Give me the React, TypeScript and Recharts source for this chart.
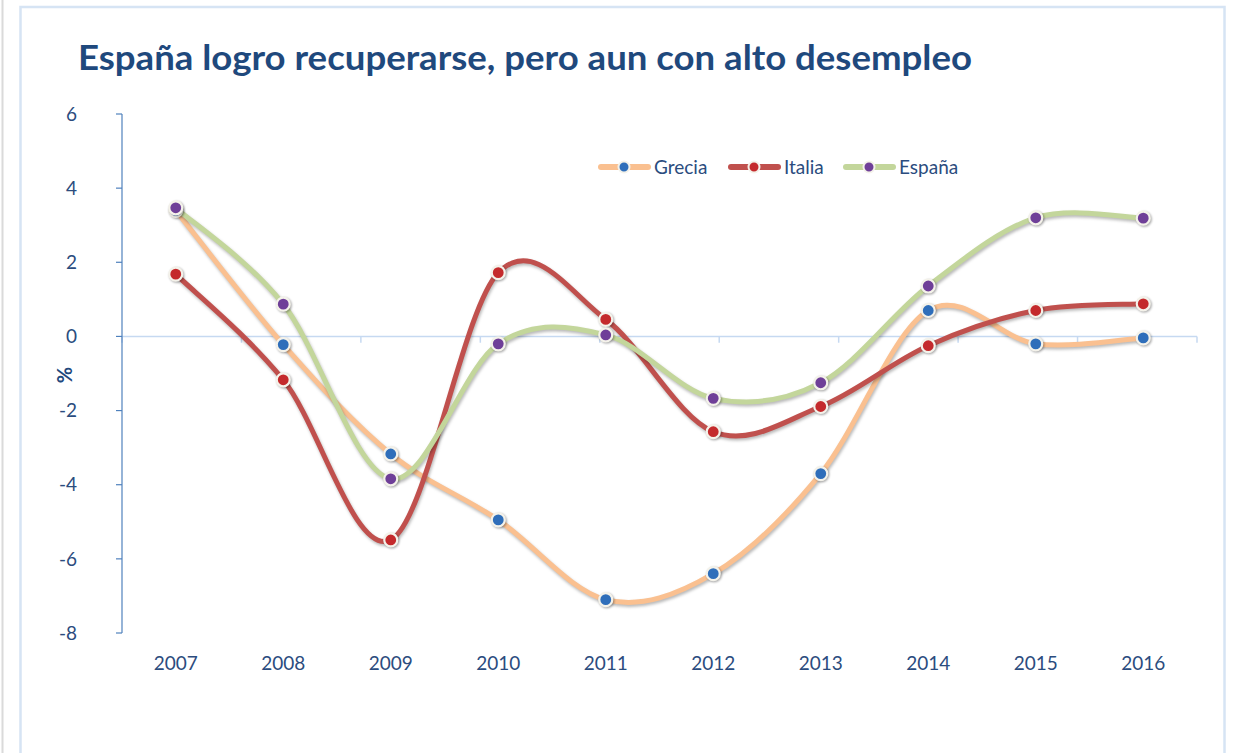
import React from 'react';
import { LineChart, Line, XAxis, YAxis, ReferenceLine } from 'recharts';

const years = ['2007', '2008', '2009', '2010', '2011', '2012', '2013', '2014', '2015', '2016'];
const grecia = [3.4, -0.22, -3.17, -4.95, -7.1, -6.4, -3.7, 0.7, -0.2, -0.04];
const italia = [1.68, -1.17, -5.49, 1.72, 0.46, -2.57, -1.89, -0.25, 0.7, 0.88];
const espana = [3.47, 0.87, -3.84, -0.2, 0.04, -1.67, -1.25, 1.36, 3.2, 3.19];
const yTicks = [-8, -6, -4, -2, 0, 2, 4, 6];
const boundaryTicks = [0, 1, 2, 3, 4, 5, 6, 7, 8, 9, 10];

const series = [
  { key: 'grecia', name: 'Grecia', line: '#FAC090', dot: '#2F6EBA' },
  { key: 'italia', name: 'Italia', line: '#C0504D', dot: '#C42A2C' },
  { key: 'espana', name: 'España', line: '#C3D69B', dot: '#6F3F98' },
];

const data = years.map((y, i) => ({ year: y, grecia: grecia[i], italia: italia[i], espana: espana[i] }));

const FONT = 'Lato, "Open Sans", sans-serif';
const TEXT = '#2B4C7E';
const AXIS = '#4F81BD';

// Excel-like smoothed line (uniform Catmull-Rom as cubic Bezier)
const excelCurve = (context: any) => {
  let pts: number[][] = [];
  return {
    areaStart() {},
    areaEnd() {},
    lineStart() { pts = []; },
    point(x: number, y: number) { pts.push([+x, +y]); },
    lineEnd() {
      if (!pts.length) return;
      context.moveTo(pts[0][0], pts[0][1]);
      for (let i = 0; i < pts.length - 1; i++) {
        const p0 = pts[i - 1] || pts[i];
        const p1 = pts[i];
        const p2 = pts[i + 1];
        const p3 = pts[i + 2] || p2;
        context.bezierCurveTo(
          p1[0] + (p2[0] - p0[0]) / 6, p1[1] + (p2[1] - p0[1]) / 6,
          p2[0] - (p3[0] - p1[0]) / 6, p2[1] - (p3[1] - p1[1]) / 6,
          p2[0], p2[1]
        );
      }
    },
  };
};

const legendX = [598, 728, 843];
const PLOT_W = 1075;
const HALF_BAND = PLOT_W / years.length / 2;

export default function App() {
  return (
    <div style={{ position: 'absolute', left: 0, top: 0, width: 1235, height: 753, background: '#fff', overflow: 'hidden' }}>
      <style>{`
        .recharts-line-curve { filter: drop-shadow(1.5px 2px 1.5px rgba(0,0,0,0.28)); }
        .recharts-line-dots circle { filter: drop-shadow(1px 1.5px 1.2px rgba(0,0,0,0.35)); }
      `}</style>
      <svg width={1235} height={753} style={{ position: 'absolute', left: 0, top: 0 }}>
        <line x1={2.5} y1={0} x2={2.5} y2={753} stroke="#DADADA" strokeWidth={2} />
        <rect x={20.5} y={7} width={1204} height={800} fill="#fff" stroke="#D6E4F4" strokeWidth={2.5} />
      </svg>
      <div style={{ position: 'absolute', left: 0, top: 0 }}>
        <LineChart width={1235} height={753} data={data} margin={{ top: 114, right: 38, bottom: 90, left: 62 }}>
          <XAxis dataKey="year" axisLine={false} tickLine={false} height={30} tickMargin={18}
            padding={{ left: HALF_BAND, right: HALF_BAND }}
            tick={{ fill: TEXT, fontSize: 19, fontFamily: FONT }} interval={0} />
          <XAxis xAxisId="n" type="number" domain={[0, 10]} hide />
          <YAxis domain={[-8, 6]} ticks={yTicks} width={60} axisLine={{ stroke: AXIS, strokeWidth: 1.2 }}
            tickLine={{ stroke: AXIS, strokeWidth: 1.2 }} tickSize={6} tickMargin={39}
            tick={{ fill: TEXT, fontSize: 19, fontFamily: FONT }} interval={0} />
          <ReferenceLine y={0} xAxisId="n" stroke="#C6D9F1" strokeWidth={1.5} />
          {boundaryTicks.map((b) => (
            <ReferenceLine key={b} xAxisId="n" segment={[{ x: b, y: 0 }, { x: b, y: -0.17 }]} stroke="#C6D9F1" strokeWidth={1.5} />
          ))}
          {series.map((s) => (
            <Line key={s.key} dataKey={s.key} name={s.name} type={excelCurve as any} stroke={s.line} strokeWidth={5}
              strokeLinecap="round" isAnimationActive={false} activeDot={false}
              dot={{ r: 6.5, fill: s.dot, stroke: '#F4F2EA', strokeWidth: 2.2 }} />
          ))}
        </LineChart>
      </div>
      <svg width={1235} height={753} style={{ position: 'absolute', left: 0, top: 0, pointerEvents: 'none' }}>
        <text x={78} y={70} fontFamily={FONT} fontWeight={700} fontSize={35} fill="#1F497D"
          textLength={894} lengthAdjust="spacingAndGlyphs">España logro recuperarse, pero aun con alto desempleo</text>
        <text transform="translate(72,375) rotate(-90)" textAnchor="middle" fontFamily={FONT} fontWeight={700}
          fontSize={20} fill="#1F497D">%</text>
        {series.map((s, i) => (
          <g key={s.key}>
            <line x1={legendX[i] + 3} y1={167} x2={legendX[i] + 50} y2={167} stroke={s.line} strokeWidth={6} strokeLinecap="round" />
            <circle cx={legendX[i] + 26} cy={167} r={5.5} fill={s.dot} stroke="#F4F2EA" strokeWidth={2} />
            <text x={legendX[i] + 56} y={167} dy="0.35em" fontFamily={FONT} fontSize={19} fill={TEXT}>{s.name}</text>
          </g>
        ))}
      </svg>
    </div>
  );
}
